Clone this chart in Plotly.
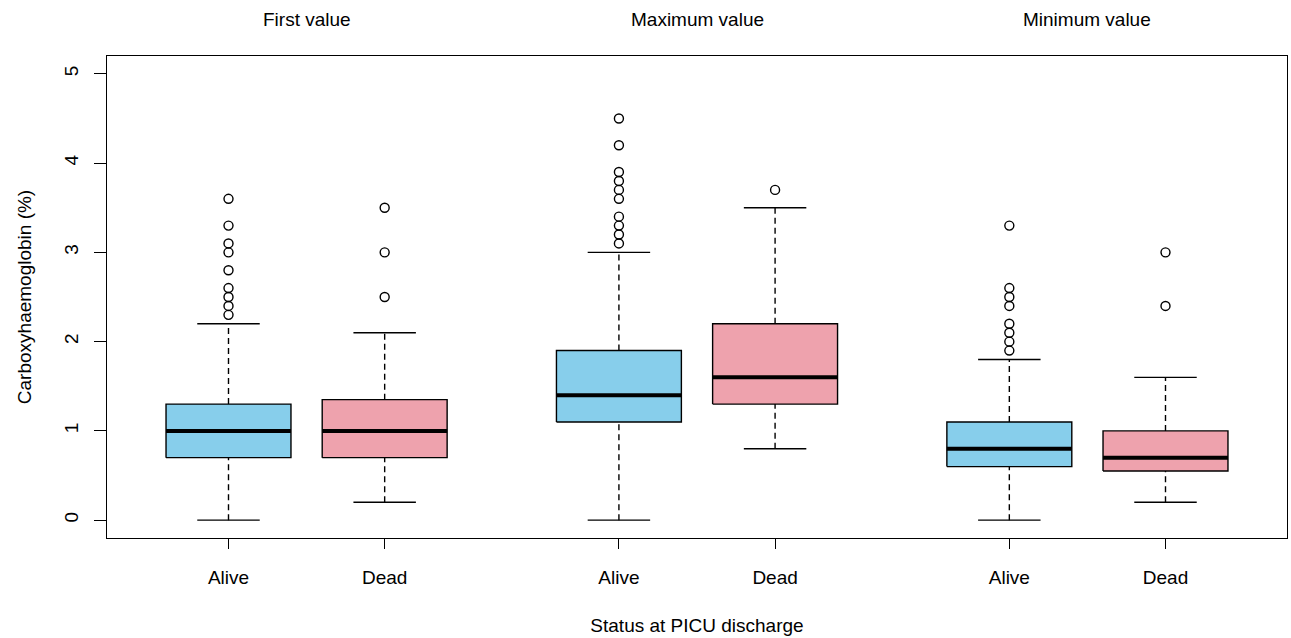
import plotly.graph_objects as go

# ---- data ----
groups = ["First value", "Maximum value", "Minimum value"]
status = ["Alive", "Dead"]

q1 = [0.70, 0.70, 1.10, 1.30, 0.60, 0.55]
median = [1.00, 1.00, 1.40, 1.60, 0.80, 0.70]
q3 = [1.30, 1.35, 1.90, 2.20, 1.10, 1.00]
lower = [0.00, 0.20, 0.00, 0.80, 0.00, 0.20]
upper = [2.20, 2.10, 3.00, 3.50, 1.80, 1.60]
outliers = [
    [2.3, 2.4, 2.5, 2.6, 2.8, 3.0, 3.1, 3.3, 3.6],
    [2.5, 3.0, 3.5],
    [3.1, 3.2, 3.3, 3.4, 3.6, 3.7, 3.8, 3.9, 4.2, 4.5],
    [3.7],
    [1.9, 2.0, 2.1, 2.2, 2.4, 2.5, 2.6, 3.3],
    [2.4, 3.0],
]
y_ticks = [0, 1, 2, 3, 4, 5]

# ---- styling ----
colors = {"Alive": "#87CEEB", "Dead": "#EEA2AD"}
FONT = "Liberation Sans, Arial, sans-serif"
BOX_W = 0.8
CAP_W = 0.4
GROUP_GAP = 2.5

positions = []
labels = []
for g in range(len(groups)):
    for s, st in enumerate(status):
        positions.append(1 + g * GROUP_GAP + s)
        labels.append(st)

fig = go.Figure()
line_black = dict(color="black", width=1.4)
for i, p in enumerate(positions):
    # whiskers
    for a, b in [(lower[i], q1[i]), (q3[i], upper[i])]:
        fig.add_trace(go.Scatter(x=[p, p], y=[a, b], mode="lines",
                                 line=dict(color="black", width=1.4, dash="6px,4px"),
                                 hoverinfo="skip", showlegend=False))
    # caps
    for v in [lower[i], upper[i]]:
        fig.add_trace(go.Scatter(x=[p - CAP_W / 2, p + CAP_W / 2], y=[v, v], mode="lines",
                                 line=line_black, hoverinfo="skip", showlegend=False))
    # box
    x0, x1 = p - BOX_W / 2, p + BOX_W / 2
    fig.add_trace(go.Scatter(x=[x0, x1, x1, x0, x0],
                             y=[q1[i], q1[i], q3[i], q3[i], q1[i]],
                             mode="lines", fill="toself",
                             fillcolor=colors[labels[i]], line=line_black,
                             hoverinfo="skip", showlegend=False))
    # median
    fig.add_trace(go.Scatter(x=[x0, x1], y=[median[i], median[i]], mode="lines",
                             line=dict(color="black", width=4),
                             hoverinfo="skip", showlegend=False))
    # outliers
    fig.add_trace(go.Scatter(x=[p] * len(outliers[i]), y=outliers[i], mode="markers",
                             marker=dict(symbol="circle-open", size=9, color="black",
                                         line=dict(width=1.4, color="black")),
                             showlegend=False))

# group titles
for g, name in enumerate(groups):
    xs = positions[g * 2:(g + 1) * 2]
    fig.add_annotation(x=sum(xs) / len(xs), y=1, xref="x", yref="paper",
                       yanchor="bottom", yshift=24, text=name, showarrow=False,
                       font=dict(family=FONT, size=19, color="black"))

fig.update_layout(
    width=1291, height=638,
    margin=dict(l=107, r=4, t=56, b=100),
    plot_bgcolor="white", paper_bgcolor="white",
    font=dict(family=FONT, size=19, color="black"),
    xaxis=dict(range=[positions[0] - 0.778, positions[-1] + 0.778],
               tickmode="array", tickvals=positions, ticktext=labels,
               ticks="outside", ticklen=10, tickwidth=1.3, tickcolor="black",
               showline=True, mirror=True, linecolor="black", linewidth=1.4,
               showgrid=False, zeroline=False, ticklabelstandoff=12,
               title=dict(text="Status at PICU discharge", standoff=31,
                          font=dict(size=19))),
    yaxis=dict(range=[-0.2, 5.2], tickmode="array", tickvals=y_ticks,
               ticktext=[str(t) for t in y_ticks], tickangle=-90,
               ticks="outside", ticklen=12, tickwidth=1.3, tickcolor="black",
               showline=True, mirror=True, linecolor="black", linewidth=1.4,
               showgrid=False, zeroline=False, ticklabelstandoff=8,
               title=dict(text="Carboxyhaemoglobin (%)", standoff=24,
                          font=dict(size=19))),
)

fig.write_html("out.html")
